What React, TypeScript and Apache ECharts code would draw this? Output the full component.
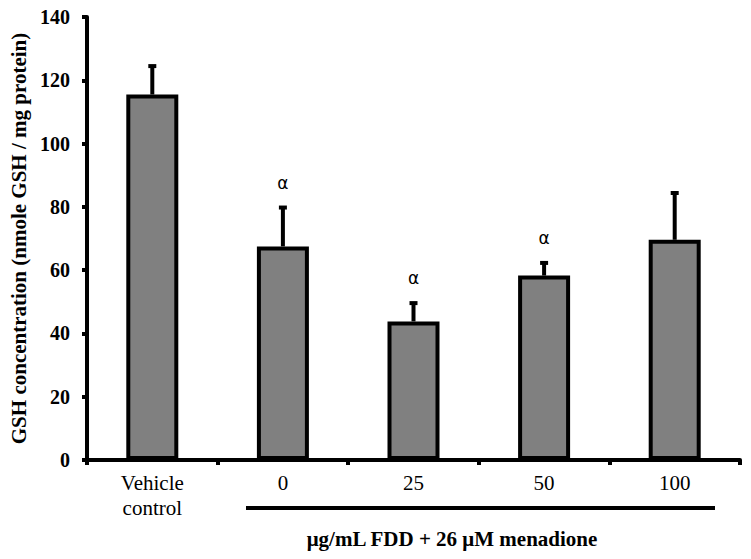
import React, { useEffect, useRef } from "react";
import * as echarts from "echarts";

const categories = ["Vehicle\ncontrol", "0", "25", "50", "100"];
const means = [115.5, 67.5, 43.8, 58.3, 69.6];
const errTops = [124.8, 80.1, 49.9, 62.6, 84.7];
const marks = ["", "α", "α", "α", ""];
const yTicks = { min: 0, max: 140, interval: 20 };
const yName = "GSH concentration (nmole GSH / mg protein)";
const xTitle = "μg/mL FDD + 26 μM menadione";

const FONT = "'Liberation Serif', 'Times New Roman', serif";

export default function App() {
  const ref = useRef<HTMLDivElement>(null);
  useEffect(() => {
    if (!ref.current) return;
    const chart = echarts.init(ref.current, undefined, { renderer: "svg" });
    const errData = categories.map((_, i) => [i, means[i], errTops[i], marks[i]]);
    chart.setOption({
      animation: false,
      backgroundColor: "#ffffff",
      grid: { left: 87, right: 11, top: 17, bottom: 99 },
      xAxis: {
        type: "category",
        data: categories,
        axisLine: { lineStyle: { color: "#000", width: 4 } },
        axisTick: { show: true, length: 5, lineStyle: { color: "#000", width: 4 } },
        axisLabel: { color: "#000", fontFamily: FONT, fontSize: 21, lineHeight: 25, margin: 10 },
      },
      yAxis: {
        type: "value",
        min: yTicks.min,
        max: yTicks.max,
        interval: yTicks.interval,
        name: yName,
        nameLocation: "middle",
        nameGap: 57,
        nameTextStyle: { color: "#000", fontFamily: FONT, fontSize: 21, fontWeight: "bold" },
        splitLine: { show: false },
        axisLine: { show: true, lineStyle: { color: "#000", width: 4 } },
        axisTick: { show: true, length: 5, lineStyle: { color: "#000", width: 4 } },
        axisLabel: { color: "#000", fontFamily: FONT, fontSize: 20, fontWeight: "bold", margin: 17 },
      },
      series: [
        {
          type: "bar",
          data: means,
          barWidth: 52,
          itemStyle: { color: "#808080", borderColor: "#000", borderWidth: 4 },
          z: 2,
        },
        {
          type: "custom",
          data: errData,
          z: 3,
          renderItem: (params: any, api: any) => {
            const x = api.coord([api.value(0), 0])[0];
            const yb = api.coord([api.value(0), api.value(1)])[1];
            const yt = api.coord([api.value(0), api.value(2)])[1];
            const mark = marks[params.dataIndex];
            const children: any[] = [
              { type: "line", shape: { x1: x, y1: yb, x2: x, y2: yt }, style: { stroke: "#000", lineWidth: 4 } },
              { type: "line", shape: { x1: x - 4, y1: yt + 1, x2: x + 4, y2: yt + 1 }, style: { stroke: "#000", lineWidth: 4 } },
            ];
            if (mark) {
              children.push({
                type: "text",
                x: x,
                y: yt - 24,
                style: { text: mark, fill: "#000", font: "17px 'DejaVu Sans', sans-serif", align: "center", verticalAlign: "middle" },
              });
            }
            return { type: "group", children };
          },
        },
      ],
      graphic: [
        { type: "line", shape: { x1: 246, y1: 508, x2: 715, y2: 508 }, style: { stroke: "#000", lineWidth: 4 } },
        {
          type: "text",
          x: 452,
          y: 539,
          style: { text: xTitle, fill: "#000", font: `bold 21px ${FONT}`, align: "center", verticalAlign: "middle" },
        },
      ],
    });
    return () => chart.dispose();
  }, []);
  return <div ref={ref} style={{ width: 751, height: 559, margin: -8 }} />;
}
